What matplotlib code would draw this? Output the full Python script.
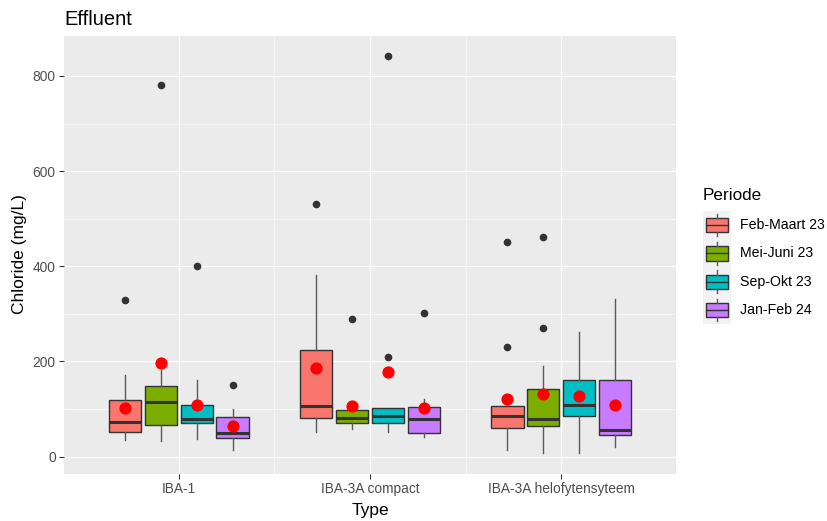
import matplotlib
matplotlib.use("Agg")
import matplotlib.pyplot as plt
from matplotlib.patches import Rectangle

plt.rcParams["font.family"] = ["Liberation Sans", "DejaVu Sans"]

# ---- data -------------------------------------------------------------
types = ["IBA-1", "IBA-3A compact", "IBA-3A helofytensyteem"]
periods = ["Feb-Maart 23", "Mei-Juni 23", "Sep-Okt 23", "Jan-Feb 24"]
colors = ["#F8766D", "#7CAE00", "#00BFC4", "#C77CFF"]

# per type: one value per period (Feb-Maart, Mei-Juni, Sep-Okt, Jan-Feb)
whis_low = {
    "IBA-1": [35, 32, 36, 14],
    "IBA-3A compact": [52, 58, 52, 41],
    "IBA-3A helofytensyteem": [14, 7, 7, 20],
}
q1 = {
    "IBA-1": [52, 66, 70, 39],
    "IBA-3A compact": [81, 71, 70, 50],
    "IBA-3A helofytensyteem": [60, 64, 85, 46],
}
median = {
    "IBA-1": [72, 115, 79, 50],
    "IBA-3A compact": [106, 81, 85, 78],
    "IBA-3A helofytensyteem": [85, 79, 109, 56],
}
q3 = {
    "IBA-1": [120, 148, 109, 83],
    "IBA-3A compact": [224, 99, 102, 105],
    "IBA-3A helofytensyteem": [106, 143, 162, 160],
}
whis_high = {
    "IBA-1": [171, 183, 162, 100],
    "IBA-3A compact": [382, 99, 102, 121],
    "IBA-3A helofytensyteem": [111, 191, 262, 332],
}
means = {
    "IBA-1": [103, 197, 108, 64],
    "IBA-3A compact": [187, 107, 178, 103],
    "IBA-3A helofytensyteem": [121, 131, 127, 108],
}
outliers = {
    "IBA-1": [[330], [781], [400], [150]],
    "IBA-3A compact": [[531], [290], [210, 842], [301]],
    "IBA-3A helofytensyteem": [[231, 451], [270, 461], [], []],
}

# ---- figure -----------------------------------------------------------
W, H = 827, 521
fig = plt.figure(figsize=(W / 100, H / 100), dpi=100)


def px_rect(x0, y0, x1, y1):
    return [x0 / W, 1 - y1 / H, (x1 - x0) / W, (y1 - y0) / H]


ax = fig.add_axes(px_rect(64, 36, 676, 473.5))
ax.set_facecolor("#EBEBEB")
for s in ax.spines.values():
    s.set_visible(False)

dodge = 0.75 / len(periods)
box_w = dodge * 0.9
offsets = [(j - (len(periods) - 1) / 2) * dodge for j in range(len(periods))]

for j, (per, col) in enumerate(zip(periods, colors)):
    stats = []
    pos = []
    for i, t in enumerate(types):
        stats.append(dict(
            whislo=whis_low[t][j], q1=q1[t][j], med=median[t][j],
            q3=q3[t][j], whishi=whis_high[t][j], mean=means[t][j],
            fliers=outliers[t][j], label=t,
        ))
        pos.append(i + 1 + offsets[j])
    ax.bxp(
        stats, positions=pos, widths=box_w, patch_artist=True,
        showcaps=False, showmeans=True, manage_ticks=False,
        boxprops=dict(facecolor=col, edgecolor="#333333", linewidth=1.0),
        medianprops=dict(color="#333333", linewidth=2.2, solid_capstyle="butt"),
        whiskerprops=dict(color="#5a5a5a", linewidth=1.0),
        flierprops=dict(marker="o", markerfacecolor="#333333",
                        markeredgecolor="#333333", markersize=4.5),
        meanprops=dict(marker="o", markerfacecolor="#FF0000",
                       markeredgecolor="#FF0000", markersize=7.8),
        zorder=3,
    )

ax.set_xlim(0.4, 3.6)
ax.set_ylim(-35.5, 884)
ax.set_xticks([1, 2, 3])
ax.set_xticklabels(types)
ax.set_xticks([1.5, 2.5], minor=True)
ax.set_yticks([0, 200, 400, 600, 800])
ax.set_yticks([100, 300, 500, 700], minor=True)
ax.grid(which="major", color="white", linewidth=0.85, zorder=0)
ax.grid(which="minor", color="white", linewidth=0.4, zorder=0)
ax.set_axisbelow(True)
ax.tick_params(which="major", length=3.6, width=0.8, color="#333333",
               labelcolor="#4D4D4D", labelsize=9.9)
ax.tick_params(axis="x", which="major", pad=2.8)
ax.tick_params(axis="y", which="major", pad=2.4)
ax.tick_params(which="minor", length=0)

# titles
fig.text(64 / W, 1 - 25 / H, "Effluent", ha="left", va="baseline",
         fontsize=14.5, color="black")
fig.text(370 / W, 1 - 515 / H, "Type", ha="center", va="baseline",
         fontsize=12.5, color="black")
fig.text(20 / W, 1 - 254.5 / H, "Chloride (mg/L)", ha="center", va="center",
         rotation=90, fontsize=12.5, color="black")

# legend
key_top, key_h = 211, 28.3
lax = fig.add_axes(px_rect(703, key_top, 731, key_top + key_h * len(periods)))
lax.set_xlim(0, 1)
lax.set_ylim(len(periods), 0)
lax.axis("off")
for k, col in enumerate(colors):
    lax.add_patch(Rectangle((0, k), 1, 1, facecolor="#F2F2F2",
                            edgecolor="none"))
    lax.plot([0.5, 0.5], [k + 0.1, k + 0.25], color="#5a5a5a", lw=1.0)
    lax.plot([0.5, 0.5], [k + 0.75, k + 0.9], color="#5a5a5a", lw=1.0)
    lax.add_patch(Rectangle((0.12, k + 0.25), 0.76, 0.5, facecolor=col,
                            edgecolor="#333333", linewidth=1.0))
    lax.plot([0.12, 0.88], [k + 0.5, k + 0.5], color="#333333", lw=1.0)
    fig.text(740 / W, 1 - (key_top + key_h * (k + 0.5)) / H, periods[k],
             ha="left", va="center", fontsize=10.2, color="black")
fig.text(703 / W, 1 - 195 / H, "Periode", ha="left", va="center",
         fontsize=12.3, color="black")

fig.savefig("out.png", dpi=100)
